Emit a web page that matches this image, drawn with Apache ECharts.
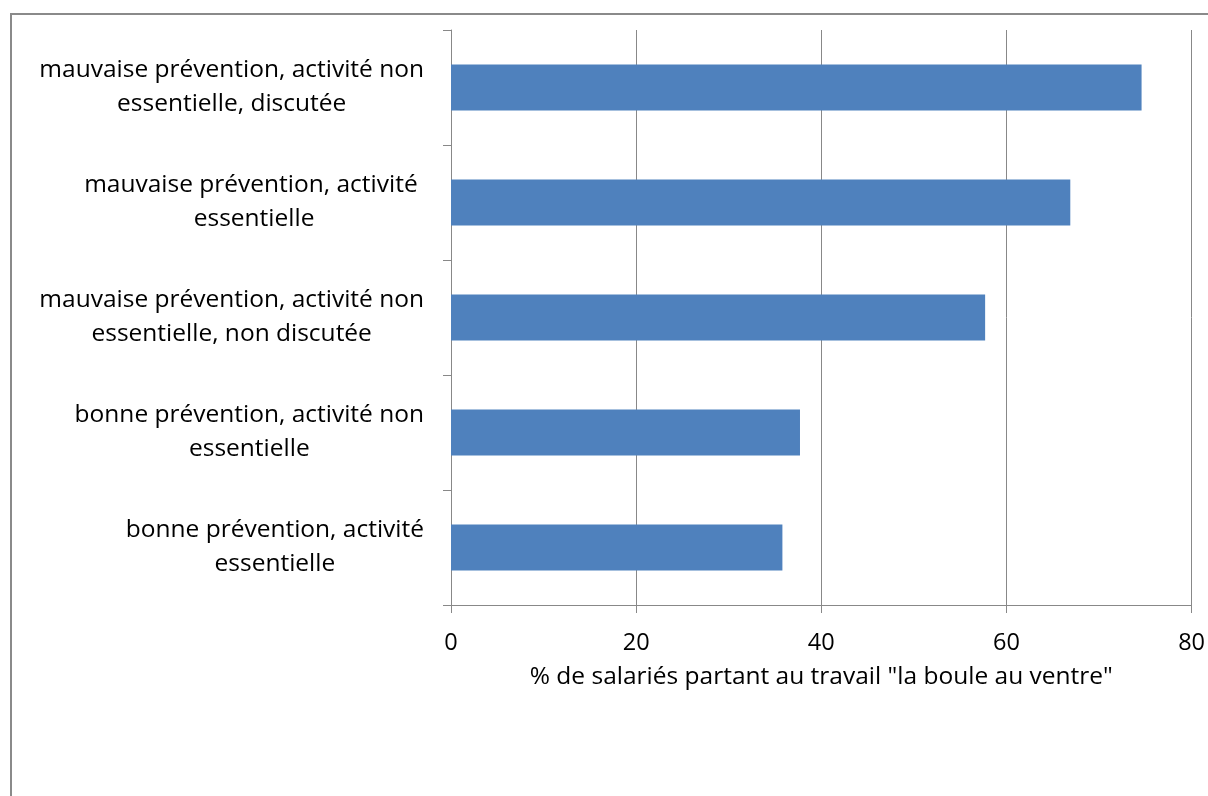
<!DOCTYPE html>
<html>
<head>
<meta charset="utf-8">
<script src="https://cdn.jsdelivr.net/npm/echarts@6/dist/echarts.min.js"></script>
<style>
  html, body { margin: 0; padding: 0; background: #fff; }
  #chart { position: absolute; left: 0; top: 0; width: 1208px; height: 796px; }
  #frame { position: absolute; left: 10px; top: 13px; right: 0; bottom: 0;
           border-top: 2px solid #8a8a8a; border-left: 2px solid #8a8a8a; pointer-events: none; }
</style>
</head>
<body>
<div id="chart"></div>
<div id="frame"></div>
<script>
// Scenario labels, top to bottom (each entry holds its two printed lines)
const categories = [
  ['mauvaise prévention, activité non', 'essentielle, discutée'],
  ['mauvaise prévention, activité ', 'essentielle'],
  ['mauvaise prévention, activité non', 'essentielle, non discutée'],
  ['bonne prévention, activité non', 'essentielle'],
  ['bonne prévention, activité', 'essentielle']
];
// Share of employees going to work with a knot in the stomach (%)
const values = [74.6, 66.9, 57.7, 37.7, 35.8];
const xTicks = [0, 20, 40, 60, 80];
const xTitle = '% de salariés partant au travail "la boule au ventre"';

const FONT = '"Open Sans"';
const GREY = '#888888';

const names = categories.map(c => c.join('\n'));

const chart = echarts.init(document.getElementById('chart'), null, { renderer: 'canvas' });
chart.setOption({
  animation: false,
  backgroundColor: 'transparent',
  grid: { left: 451, right: 16, top: 30, bottom: 191, containLabel: false },
  xAxis: {
    type: 'value',
    min: xTicks[0],
    max: xTicks[xTicks.length - 1],
    interval: xTicks[1] - xTicks[0],
    name: xTitle,
    nameLocation: 'middle',
    nameGap: 60,
    nameTextStyle: { fontFamily: FONT, fontSize: 24.5, color: '#000' },
    axisLine: { show: true, lineStyle: { color: GREY, width: 1 } },
    axisTick: { show: true, length: 8, lineStyle: { color: GREY } },
    axisLabel: { fontFamily: FONT, fontSize: 23.5, color: '#000', margin: 26 },
    splitLine: { show: true, lineStyle: { color: GREY, width: 1 } }
  },
  yAxis: {
    type: 'category',
    inverse: true,
    data: names,
    axisLine: { show: true, lineStyle: { color: GREY, width: 1 } },
    axisTick: { show: true, length: 8, lineStyle: { color: GREY } },
    axisLabel: {
      margin: 27,
      align: 'right',
      fontFamily: FONT,
      fontSize: 24.5,
      color: '#000',
      lineHeight: 34,
      formatter: v => v.split('\n').map(s => '{c|' + s + '}').join('\n'),
      rich: { c: { align: 'center', fontFamily: FONT, fontSize: 24.5, lineHeight: 34, color: '#000' } }
    },
    splitLine: { show: false }
  },
  series: [{
    type: 'bar',
    data: values,
    barWidth: 46,
    itemStyle: { color: '#4F81BD' },
    silent: true
  }]
});
</script>
</body>
</html>
